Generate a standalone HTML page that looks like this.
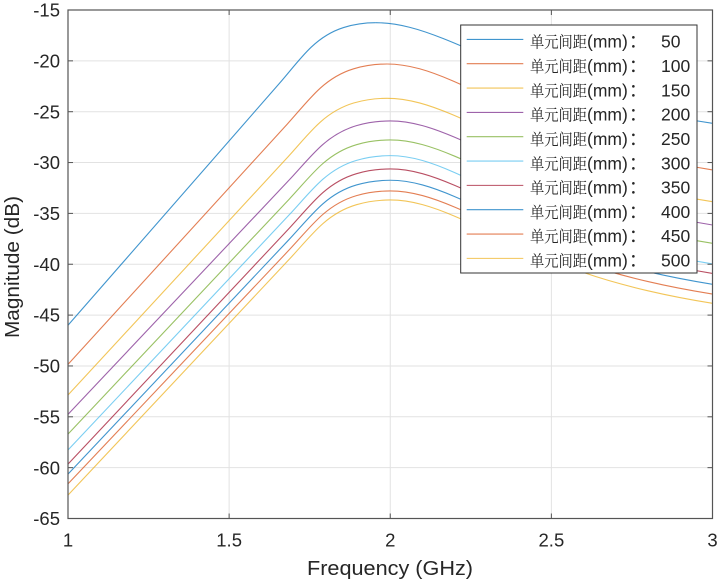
<!DOCTYPE html>
<html>
<head>
<meta charset="utf-8">
<style>
html,body{margin:0;padding:0;background:#fff;}
svg{display:block;}
</style>
</head>
<body>
<svg width="720" height="583" viewBox="0 0 720 583" xmlns="http://www.w3.org/2000/svg" font-family="'Liberation Sans', Arial, sans-serif">
<rect x="0" y="0" width="720" height="583" fill="#ffffff"/>

<!-- grid -->
<g stroke="#e2e2e2" stroke-width="1" fill="none">
  <line x1="68" y1="60.85" x2="712.5" y2="60.85"/>
  <line x1="68" y1="111.7" x2="712.5" y2="111.7"/>
  <line x1="68" y1="162.55" x2="712.5" y2="162.55"/>
  <line x1="68" y1="213.4" x2="712.5" y2="213.4"/>
  <line x1="68" y1="264.25" x2="712.5" y2="264.25"/>
  <line x1="68" y1="315.1" x2="712.5" y2="315.1"/>
  <line x1="68" y1="365.95" x2="712.5" y2="365.95"/>
  <line x1="68" y1="416.8" x2="712.5" y2="416.8"/>
  <line x1="68" y1="467.65" x2="712.5" y2="467.65"/>
  <line x1="229.125" y1="10" x2="229.125" y2="518.5"/>
  <line x1="390.25" y1="10" x2="390.25" y2="518.5"/>
  <line x1="551.375" y1="10" x2="551.375" y2="518.5"/>
</g>

<!-- curves -->
<g fill="none" stroke-width="1.1" stroke-opacity="0.75">
  <path vector-effect="non-scaling-stroke" stroke="#0072BD" transform="translate(375.75,22.71) scale(307.75,302.56)" d="M-1,1 L-0.3141,0.2018 C-0.2792,0.1612 -0.2443,0.1140 -0.2094,0.0805 C-0.1745,0.0470 -0.1396,0.0272 -0.1047,0.016 C-0.0698,0.0048 -0.0349,0 0,0"/>
  <path vector-effect="non-scaling-stroke" stroke="#0072BD" transform="translate(375.75,22.71) scale(336.75,100.58)" d="M0,0 C0.0333,0 0.0667,0.017 0.1,0.045 C0.1333,0.073 0.1667,0.113 0.2,0.157 C0.2667,0.245 0.3333,0.3497 0.4,0.444 C0.4667,0.5383 0.5333,0.6297 0.6,0.702 C0.6667,0.7743 0.7333,0.8303 0.8,0.879 C0.8667,0.9277 0.9333,0.9667 1,1"/>
  <path vector-effect="non-scaling-stroke" stroke="#D95319" transform="translate(387.03,64.0) scale(319.03,300.32)" d="M-1,1 L-0.3141,0.2018 C-0.2792,0.1612 -0.2443,0.1140 -0.2094,0.0805 C-0.1745,0.0470 -0.1396,0.0272 -0.1047,0.016 C-0.0698,0.0048 -0.0349,0 0,0"/>
  <path vector-effect="non-scaling-stroke" stroke="#D95319" transform="translate(387.03,64.0) scale(325.47,105.97)" d="M0,0 C0.0333,0 0.0667,0.017 0.1,0.045 C0.1333,0.073 0.1667,0.113 0.2,0.157 C0.2667,0.245 0.3333,0.3497 0.4,0.444 C0.4667,0.5383 0.5333,0.6297 0.6,0.702 C0.6667,0.7743 0.7333,0.8303 0.8,0.879 C0.8667,0.9277 0.9333,0.9667 1,1"/>
  <path vector-effect="non-scaling-stroke" stroke="#EDB120" transform="translate(387.03,98.28) scale(319.03,296.76)" d="M-1,1 L-0.3141,0.2018 C-0.2792,0.1612 -0.2443,0.1140 -0.2094,0.0805 C-0.1745,0.0470 -0.1396,0.0272 -0.1047,0.016 C-0.0698,0.0048 -0.0349,0 0,0"/>
  <path vector-effect="non-scaling-stroke" stroke="#EDB120" transform="translate(387.03,98.28) scale(325.47,103.43)" d="M0,0 C0.0333,0 0.0667,0.017 0.1,0.045 C0.1333,0.073 0.1667,0.113 0.2,0.157 C0.2667,0.245 0.3333,0.3497 0.4,0.444 C0.4667,0.5383 0.5333,0.6297 0.6,0.702 C0.6667,0.7743 0.7333,0.8303 0.8,0.879 C0.8667,0.9277 0.9333,0.9667 1,1"/>
  <path vector-effect="non-scaling-stroke" stroke="#7E2F8E" transform="translate(390.25,120.95) scale(322.25,293.40)" d="M-1,1 L-0.3141,0.2018 C-0.2792,0.1612 -0.2443,0.1140 -0.2094,0.0805 C-0.1745,0.0470 -0.1396,0.0272 -0.1047,0.016 C-0.0698,0.0048 -0.0349,0 0,0"/>
  <path vector-effect="non-scaling-stroke" stroke="#7E2F8E" transform="translate(390.25,120.95) scale(322.25,104.04)" d="M0,0 C0.0333,0 0.0667,0.017 0.1,0.045 C0.1333,0.073 0.1667,0.113 0.2,0.157 C0.2667,0.245 0.3333,0.3497 0.4,0.444 C0.4667,0.5383 0.5333,0.6297 0.6,0.702 C0.6667,0.7743 0.7333,0.8303 0.8,0.879 C0.8667,0.9277 0.9333,0.9667 1,1"/>
  <path vector-effect="non-scaling-stroke" stroke="#77AC30" transform="translate(390.25,139.97) scale(322.25,294.12)" d="M-1,1 L-0.3141,0.2018 C-0.2792,0.1612 -0.2443,0.1140 -0.2094,0.0805 C-0.1745,0.0470 -0.1396,0.0272 -0.1047,0.016 C-0.0698,0.0048 -0.0349,0 0,0"/>
  <path vector-effect="non-scaling-stroke" stroke="#77AC30" transform="translate(390.25,139.97) scale(322.25,103.33)" d="M0,0 C0.0333,0 0.0667,0.017 0.1,0.045 C0.1333,0.073 0.1667,0.113 0.2,0.157 C0.2667,0.245 0.3333,0.3497 0.4,0.444 C0.4667,0.5383 0.5333,0.6297 0.6,0.702 C0.6667,0.7743 0.7333,0.8303 0.8,0.879 C0.8667,0.9277 0.9333,0.9667 1,1"/>
  <path vector-effect="non-scaling-stroke" stroke="#4DBEEE" transform="translate(390.25,155.63) scale(322.25,294.42)" d="M-1,1 L-0.3141,0.2018 C-0.2792,0.1612 -0.2443,0.1140 -0.2094,0.0805 C-0.1745,0.0470 -0.1396,0.0272 -0.1047,0.016 C-0.0698,0.0048 -0.0349,0 0,0"/>
  <path vector-effect="non-scaling-stroke" stroke="#4DBEEE" transform="translate(390.25,155.63) scale(322.25,108.31)" d="M0,0 C0.0333,0 0.0667,0.017 0.1,0.045 C0.1333,0.073 0.1667,0.113 0.2,0.157 C0.2667,0.245 0.3333,0.3497 0.4,0.444 C0.4667,0.5383 0.5333,0.6297 0.6,0.702 C0.6667,0.7743 0.7333,0.8303 0.8,0.879 C0.8667,0.9277 0.9333,0.9667 1,1"/>
  <path vector-effect="non-scaling-stroke" stroke="#A2142F" transform="translate(390.25,168.96) scale(322.25,295.13)" d="M-1,1 L-0.3141,0.2018 C-0.2792,0.1612 -0.2443,0.1140 -0.2094,0.0805 C-0.1745,0.0470 -0.1396,0.0272 -0.1047,0.016 C-0.0698,0.0048 -0.0349,0 0,0"/>
  <path vector-effect="non-scaling-stroke" stroke="#A2142F" transform="translate(390.25,168.96) scale(322.25,104.45)" d="M0,0 C0.0333,0 0.0667,0.017 0.1,0.045 C0.1333,0.073 0.1667,0.113 0.2,0.157 C0.2667,0.245 0.3333,0.3497 0.4,0.444 C0.4667,0.5383 0.5333,0.6297 0.6,0.702 C0.6667,0.7743 0.7333,0.8303 0.8,0.879 C0.8667,0.9277 0.9333,0.9667 1,1"/>
  <path vector-effect="non-scaling-stroke" stroke="#0072BD" transform="translate(390.25,180.25) scale(322.25,293.91)" d="M-1,1 L-0.3141,0.2018 C-0.2792,0.1612 -0.2443,0.1140 -0.2094,0.0805 C-0.1745,0.0470 -0.1396,0.0272 -0.1047,0.016 C-0.0698,0.0048 -0.0349,0 0,0"/>
  <path vector-effect="non-scaling-stroke" stroke="#0072BD" transform="translate(390.25,180.25) scale(322.25,104.04)" d="M0,0 C0.0333,0 0.0667,0.017 0.1,0.045 C0.1333,0.073 0.1667,0.113 0.2,0.157 C0.2667,0.245 0.3333,0.3497 0.4,0.444 C0.4667,0.5383 0.5333,0.6297 0.6,0.702 C0.6667,0.7743 0.7333,0.8303 0.8,0.879 C0.8667,0.9277 0.9333,0.9667 1,1"/>
  <path vector-effect="non-scaling-stroke" stroke="#D95319" transform="translate(390.25,190.92) scale(322.25,293.00)" d="M-1,1 L-0.3141,0.2018 C-0.2792,0.1612 -0.2443,0.1140 -0.2094,0.0805 C-0.1745,0.0470 -0.1396,0.0272 -0.1047,0.016 C-0.0698,0.0048 -0.0349,0 0,0"/>
  <path vector-effect="non-scaling-stroke" stroke="#D95319" transform="translate(390.25,190.92) scale(322.25,103.12)" d="M0,0 C0.0333,0 0.0667,0.017 0.1,0.045 C0.1333,0.073 0.1667,0.113 0.2,0.157 C0.2667,0.245 0.3333,0.3497 0.4,0.444 C0.4667,0.5383 0.5333,0.6297 0.6,0.702 C0.6667,0.7743 0.7333,0.8303 0.8,0.879 C0.8667,0.9277 0.9333,0.9667 1,1"/>
  <path vector-effect="non-scaling-stroke" stroke="#EDB120" transform="translate(390.25,199.98) scale(322.25,295.13)" d="M-1,1 L-0.3141,0.2018 C-0.2792,0.1612 -0.2443,0.1140 -0.2094,0.0805 C-0.1745,0.0470 -0.1396,0.0272 -0.1047,0.016 C-0.0698,0.0048 -0.0349,0 0,0"/>
  <path vector-effect="non-scaling-stroke" stroke="#EDB120" transform="translate(390.25,199.98) scale(322.25,103.33)" d="M0,0 C0.0333,0 0.0667,0.017 0.1,0.045 C0.1333,0.073 0.1667,0.113 0.2,0.157 C0.2667,0.245 0.3333,0.3497 0.4,0.444 C0.4667,0.5383 0.5333,0.6297 0.6,0.702 C0.6667,0.7743 0.7333,0.8303 0.8,0.879 C0.8667,0.9277 0.9333,0.9667 1,1"/>
</g>

<!-- axes box -->
<rect x="68" y="10" width="644.5" height="508.5" fill="none" stroke="#555" stroke-width="1.2"/>

<!-- ticks -->
<g stroke="#555" stroke-width="1">
  <line x1="68" y1="60.85" x2="73" y2="60.85"/><line x1="712.5" y1="60.85" x2="707.5" y2="60.85"/>
  <line x1="68" y1="111.7" x2="73" y2="111.7"/><line x1="712.5" y1="111.7" x2="707.5" y2="111.7"/>
  <line x1="68" y1="162.55" x2="73" y2="162.55"/><line x1="712.5" y1="162.55" x2="707.5" y2="162.55"/>
  <line x1="68" y1="213.4" x2="73" y2="213.4"/><line x1="712.5" y1="213.4" x2="707.5" y2="213.4"/>
  <line x1="68" y1="264.25" x2="73" y2="264.25"/><line x1="712.5" y1="264.25" x2="707.5" y2="264.25"/>
  <line x1="68" y1="315.1" x2="73" y2="315.1"/><line x1="712.5" y1="315.1" x2="707.5" y2="315.1"/>
  <line x1="68" y1="365.95" x2="73" y2="365.95"/><line x1="712.5" y1="365.95" x2="707.5" y2="365.95"/>
  <line x1="68" y1="416.8" x2="73" y2="416.8"/><line x1="712.5" y1="416.8" x2="707.5" y2="416.8"/>
  <line x1="68" y1="467.65" x2="73" y2="467.65"/><line x1="712.5" y1="467.65" x2="707.5" y2="467.65"/>
  <line x1="229.125" y1="518.5" x2="229.125" y2="513.5"/><line x1="229.125" y1="10" x2="229.125" y2="15"/>
  <line x1="390.25" y1="518.5" x2="390.25" y2="513.5"/><line x1="390.25" y1="10" x2="390.25" y2="15"/>
  <line x1="551.375" y1="518.5" x2="551.375" y2="513.5"/><line x1="551.375" y1="10" x2="551.375" y2="15"/>
</g>

<!-- y tick labels -->
<g fill="#262626" font-size="18.5" text-anchor="end">
  <text x="60" y="16.6">-15</text>
  <text x="60" y="67.45">-20</text>
  <text x="60" y="118.3">-25</text>
  <text x="60" y="169.15">-30</text>
  <text x="60" y="220">-35</text>
  <text x="60" y="270.85">-40</text>
  <text x="60" y="321.7">-45</text>
  <text x="60" y="372.55">-50</text>
  <text x="60" y="423.4">-55</text>
  <text x="60" y="474.25">-60</text>
  <text x="60" y="525.1">-65</text>
</g>

<!-- x tick labels -->
<g fill="#262626" font-size="18.5" text-anchor="middle">
  <text x="68" y="546.5">1</text>
  <text x="229.125" y="546.5">1.5</text>
  <text x="390.25" y="546.5">2</text>
  <text x="551.375" y="546.5">2.5</text>
  <text x="712.5" y="546.5">3</text>
</g>

<!-- axis labels -->
<text x="390" y="575" fill="#262626" font-size="20" text-anchor="middle" textLength="166" lengthAdjust="spacingAndGlyphs">Frequency (GHz)</text>
<text transform="translate(19,267) rotate(-90)" fill="#262626" font-size="20" text-anchor="middle" textLength="142" lengthAdjust="spacingAndGlyphs">Magnitude (dB)</text>

<!-- legend -->
<rect x="460.7" y="25" width="236.3" height="248" fill="#ffffff" stroke="#333" stroke-width="1"/>
<g fill="none" stroke-width="1.1" stroke-opacity="0.75">
  <line x1="466.7" x2="523.3" y1="39.4" y2="39.4" stroke="#0072BD"/>
  <line x1="466.7" x2="523.3" y1="63.73" y2="63.73" stroke="#D95319"/>
  <line x1="466.7" x2="523.3" y1="88.06" y2="88.06" stroke="#EDB120"/>
  <line x1="466.7" x2="523.3" y1="112.39" y2="112.39" stroke="#7E2F8E"/>
  <line x1="466.7" x2="523.3" y1="136.72" y2="136.72" stroke="#77AC30"/>
  <line x1="466.7" x2="523.3" y1="161.05" y2="161.05" stroke="#4DBEEE"/>
  <line x1="466.7" x2="523.3" y1="185.38" y2="185.38" stroke="#A2142F"/>
  <line x1="466.7" x2="523.3" y1="209.71" y2="209.71" stroke="#0072BD"/>
  <line x1="466.7" x2="523.3" y1="234.04" y2="234.04" stroke="#D95319"/>
  <line x1="466.7" x2="523.3" y1="258.37" y2="258.37" stroke="#EDB120"/>
</g>
<g fill="#262626" font-size="17.5">
  <g font-family="'Noto Serif CJK SC','Noto Sans CJK SC',serif" font-size="16">
    <text x="530" y="47.6" textLength="57" lengthAdjust="spacingAndGlyphs">单元间距</text>
    <text x="530" y="71.93" textLength="57" lengthAdjust="spacingAndGlyphs">单元间距</text>
    <text x="530" y="96.26" textLength="57" lengthAdjust="spacingAndGlyphs">单元间距</text>
    <text x="530" y="120.59" textLength="57" lengthAdjust="spacingAndGlyphs">单元间距</text>
    <text x="530" y="144.92" textLength="57" lengthAdjust="spacingAndGlyphs">单元间距</text>
    <text x="530" y="169.25" textLength="57" lengthAdjust="spacingAndGlyphs">单元间距</text>
    <text x="530" y="193.58" textLength="57" lengthAdjust="spacingAndGlyphs">单元间距</text>
    <text x="530" y="217.91" textLength="57" lengthAdjust="spacingAndGlyphs">单元间距</text>
    <text x="530" y="242.24" textLength="57" lengthAdjust="spacingAndGlyphs">单元间距</text>
    <text x="530" y="266.57" textLength="57" lengthAdjust="spacingAndGlyphs">单元间距</text>
  </g>
  <g>
    <text x="587" y="47.6">(mm)</text>
    <text x="587" y="71.93">(mm)</text>
    <text x="587" y="96.26">(mm)</text>
    <text x="587" y="120.59">(mm)</text>
    <text x="587" y="144.92">(mm)</text>
    <text x="587" y="169.25">(mm)</text>
    <text x="587" y="193.58">(mm)</text>
    <text x="587" y="217.91">(mm)</text>
    <text x="587" y="242.24">(mm)</text>
    <text x="587" y="266.57">(mm)</text>
  </g>
  <g font-family="'Liberation Sans','Noto Sans CJK SC',sans-serif">
    <text x="629" y="47.6">：</text>
    <text x="629" y="71.93">：</text>
    <text x="629" y="96.26">：</text>
    <text x="629" y="120.59">：</text>
    <text x="629" y="144.92">：</text>
    <text x="629" y="169.25">：</text>
    <text x="629" y="193.58">：</text>
    <text x="629" y="217.91">：</text>
    <text x="629" y="242.24">：</text>
    <text x="629" y="266.57">：</text>
  </g>
  <g>
    <text x="661" y="47.6">50</text>
    <text x="661" y="71.93">100</text>
    <text x="661" y="96.26">150</text>
    <text x="661" y="120.59">200</text>
    <text x="661" y="144.92">250</text>
    <text x="661" y="169.25">300</text>
    <text x="661" y="193.58">350</text>
    <text x="661" y="217.91">400</text>
    <text x="661" y="242.24">450</text>
    <text x="661" y="266.57">500</text>
  </g>
</g>
</svg>
</body>
</html>
